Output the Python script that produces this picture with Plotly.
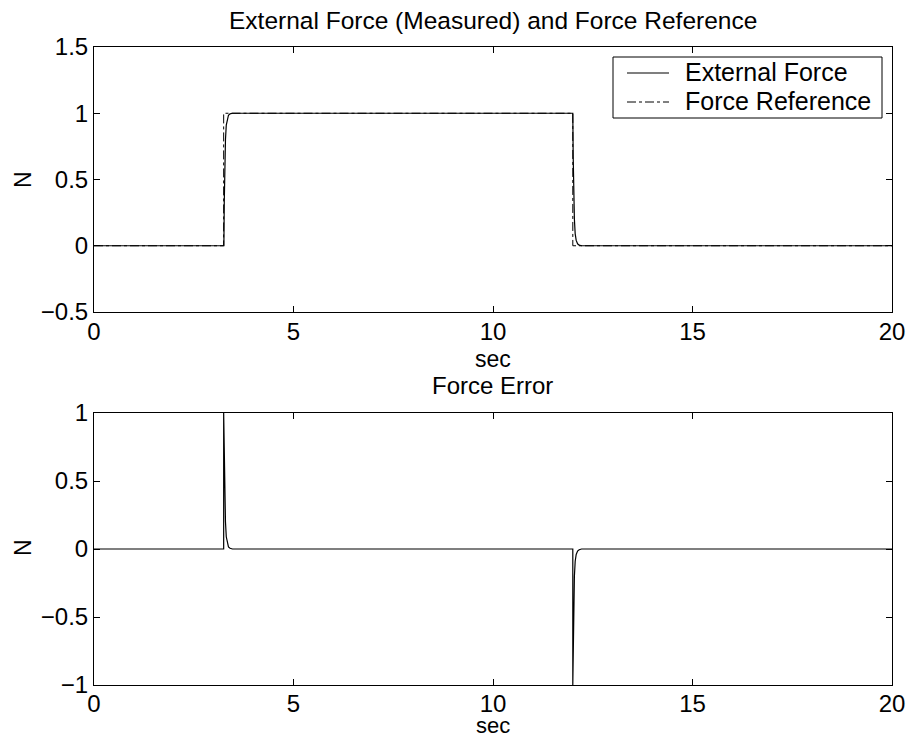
import plotly.graph_objects as go

# ---- data ----
t_ref = [0, 3.25, 3.25, 12.0, 12.0, 20]
f_ref = [0, 0, 1, 1, 0, 0]

t_ext = [0, 3.255, 3.265, 3.28, 3.295, 3.315, 3.34, 3.37, 3.41, 3.47, 3.55,
         12.0, 12.01, 12.025, 12.04, 12.06, 12.085, 12.12, 12.16, 12.22, 12.3, 20]
f_ext = [0, 0, 0.33, 0.63, 0.80, 0.91, 0.96, 0.985, 0.995, 1.0, 1.0,
         1.0, 0.67, 0.37, 0.20, 0.09, 0.04, 0.015, 0.005, 0.0, 0.0, 0]

t_err = [0, 3.25, 3.25, 3.265, 3.28, 3.295, 3.315, 3.34, 3.37, 3.41, 3.47, 3.55,
         12.0, 12.0, 12.01, 12.025, 12.04, 12.06, 12.085, 12.12, 12.16, 12.22, 12.3, 20]
f_err = [0, 0, 1.0, 0.67, 0.37, 0.20, 0.09, 0.04, 0.015, 0.005, 0.0, 0.0,
         0, -1.0, -0.67, -0.37, -0.20, -0.09, -0.04, -0.015, -0.005, 0.0, 0.0, 0]

x_ticks = [0, 5, 10, 15, 20]
y_ticks_top = [-0.5, 0, 0.5, 1, 1.5]
y_ticks_bot = [-1, -0.5, 0, 0.5, 1]

legend_names = ["External Force", "Force Reference"]

W, H = 910, 738
FONT = "Liberation Sans, Arial, Helvetica, sans-serif"

def px_x(p):
    return p / W

def px_y(p):
    return 1 - p / H

fig = go.Figure()
fig.add_trace(go.Scatter(x=t_ext, y=f_ext, mode="lines", name=legend_names[0],
                         line=dict(color="black", width=1.2), xaxis="x", yaxis="y"))
fig.add_trace(go.Scatter(x=t_ref, y=f_ref, mode="lines", name=legend_names[1],
                         line=dict(color="black", width=1, dash="dashdot"), xaxis="x", yaxis="y"))
fig.add_trace(go.Scatter(x=t_err, y=f_err, mode="lines", name="Force Error",
                         line=dict(color="black", width=1.2), xaxis="x2", yaxis="y2"))

axis_common = dict(showline=True, linecolor="black", linewidth=1, mirror="ticks",
                   ticks="inside", ticklen=6, tickcolor="black", showgrid=False,
                   zeroline=False, automargin=False,
                   tickfont=dict(family=FONT, size=24, color="black"))

xdom = [px_x(94), px_x(892)]
fig.update_layout(
    width=W, height=H,
    margin=dict(l=0, r=0, t=0, b=0, pad=0),
    paper_bgcolor="white", plot_bgcolor="white",
    font=dict(family=FONT, size=24, color="black"),
    xaxis=dict(domain=xdom, range=[0, 20], tickvals=x_ticks, anchor="y",
               ticklabelstandoff=-2, **axis_common),
    yaxis=dict(domain=[px_y(312), px_y(47)], range=[-0.5, 1.5], tickvals=y_ticks_top,
               anchor="x", **axis_common),
    xaxis2=dict(domain=xdom, range=[0, 20], tickvals=x_ticks, anchor="y2",
                ticklabelstandoff=-3, **axis_common),
    yaxis2=dict(domain=[px_y(685), px_y(413)], range=[-1, 1], tickvals=y_ticks_bot,
                anchor="x2", **axis_common),
    showlegend=False,
)

# legend box (MATLAB style) drawn in paper coordinates
fig.add_shape(type="rect", xref="paper", yref="paper",
              x0=px_x(613), x1=px_x(882), y0=px_y(118), y1=px_y(57),
              line=dict(color="black", width=1), fillcolor="white", layer="above")
fig.add_shape(type="line", xref="paper", yref="paper",
              x0=px_x(627), x1=px_x(669), y0=px_y(73), y1=px_y(73),
              line=dict(color="black", width=1.2), layer="above")
fig.add_shape(type="line", xref="paper", yref="paper",
              x0=px_x(627), x1=px_x(669), y0=px_y(102), y1=px_y(102),
              line=dict(color="black", width=1, dash="dashdot"), layer="above")
for name, yy in zip(legend_names, [72, 101]):
    fig.add_annotation(text=name, x=px_x(683), y=px_y(yy), xref="paper", yref="paper",
                       showarrow=False, xanchor="left", yanchor="middle",
                       font=dict(family=FONT, size=25, color="black"))

ann = [
    ("External Force (Measured) and Force Reference", 493, 21, 0, 24.5),
    ("Force Error", 493, 385, 0, 24),
    ("sec", 493, 359, 0, 23),
    ("sec", 493, 725, 0, 22),
    ("N", 23, 180, -90, 23),
    ("N", 23, 548, -90, 23),
]
for text, x, y, ang, sz in ann:
    fig.add_annotation(text=text, x=px_x(x), y=px_y(y), xref="paper", yref="paper",
                       showarrow=False, xanchor="center", yanchor="middle", textangle=ang,
                       font=dict(family=FONT, size=sz, color="black"))

fig.write_html("out.html")
